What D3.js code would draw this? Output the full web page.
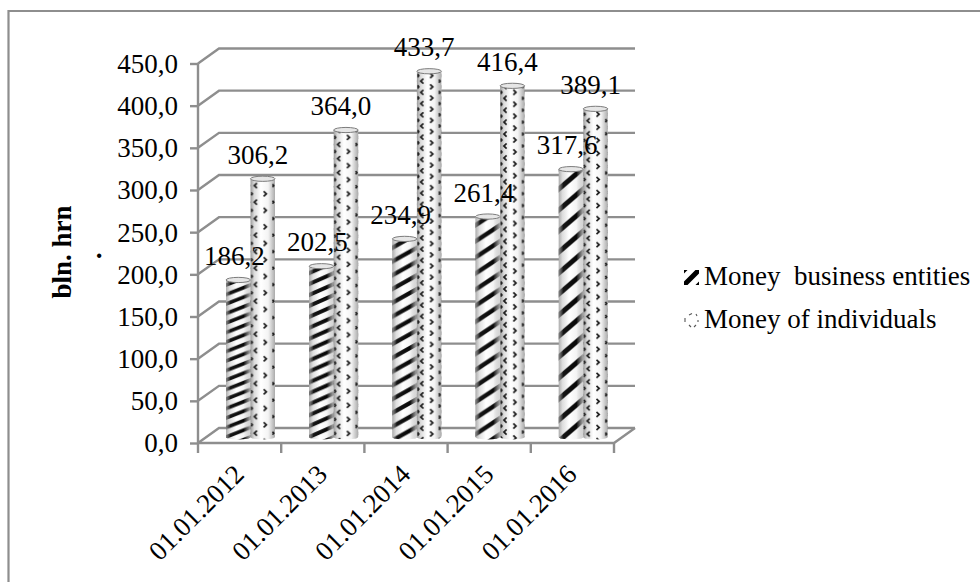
<!DOCTYPE html>
<html>
<head>
<meta charset="utf-8">
<style>
html,body{margin:0;padding:0;background:#fff;}
svg{display:block;}
text{font-family:"Liberation Serif",serif;fill:#000;white-space:pre;}
</style>
<script src="https://cdn.jsdelivr.net/npm/d3@7/dist/d3.min.js"></script>
</head>
<body>
<svg id="chart" width="980" height="582"></svg>
<script>
// Chart data
const dates = ["01.01.2012","01.01.2013","01.01.2014","01.01.2015","01.01.2016"];
const businessMoney = [186.2,202.5,234.9,261.4,317.6];
const individualMoney = [306.2,364.0,433.7,416.4,389.1];
const seriesNames = ["Money  business entities","Money of individuals"];
const valueTicks = [0,50,100,150,200,250,300,350,400,450];
const axisTitle = "bln. hrn";

const comma = v => v.toFixed(1).replace(".", ",");
const svg = d3.select("#chart");
const defs = svg.append("defs");
const textSize = 27, gridColor = "#8e8e8e";

// Cylinder body shading, light in the middle and grey towards the edges
const shade = defs.append("linearGradient").attr("id","shade");
[[0,"#9c9c9c"],[0.16,"#dcdcdc"],[0.42,"#ffffff"],[0.72,"#f4f4f4"],[1,"#ababab"]].forEach(([o,c])=>
  shade.append("stop").attr("offset",o).attr("stop-color",c));

// Veil laid over the hatching so the stripes soften at the cylinder edges
const over = defs.append("linearGradient").attr("id","shadeOver");
[[0,"#b5b5b5",0.7],[0.18,"#ffffff",0.08],[0.72,"#ffffff",0.03],[1,"#e4e4e4",0.75]].forEach(([o,c,a])=>
  over.append("stop").attr("offset",o).attr("stop-color",c).attr("stop-opacity",a));

// The fill textures stretch with the height of each cylinder
const stripeStep = d3.scaleLinear().domain([186.2,317.6]).range([9.5,21]);
const stripeWeight = d3.scaleLinear().domain([186.2,317.6]).range([3.7,5]);
const dotStep = d3.scaleLinear().domain([306.2,433.7]).range([16.5,11.2]);

function hatchPattern(id,x0,w,step,weight){
  const p = defs.append("pattern").attr("id",id).attr("patternUnits","userSpaceOnUse")
    .attr("width",w).attr("height",step).attr("patternTransform",`translate(${x0},0)`);
  p.append("path").attr("d",d3.range(-1,2).map(k=>`M${-w},${step*(2+k)} L${2*w},${step*(k-1)}`).join(" "))
    .attr("stroke","#000").attr("stroke-width",weight).attr("fill","none");
}
function dotPattern(id,x0,w,step){
  const p = defs.append("pattern").attr("id",id).attr("patternUnits","userSpaceOnUse")
    .attr("width",w).attr("height",step).attr("patternTransform",`translate(${x0},0)`);
  const q = step/4, r = 3*step/4;
  p.append("path").attr("d",
      `M6.5,${q-2.5} L3.8,${q} L6.5,${q+2.5} M13.2,${r-2.5} L15.9,${r} L13.2,${r+2.5}`+
      ` M${w-2.5},${q-1.5} L${w-1.2},${q} L${w-2.5},${q+1.5} M0.6,${r-1.5} L1.8,${r} L0.6,${r+1.5}`)
    .attr("stroke","#1c1c1c").attr("stroke-width",1.7).attr("fill","none");
}

// Scales
const frontLeft = 198, frontRight = 614, depthX = 21, depthY = 15;
const y = d3.scaleLinear().domain([0,450]).range([443,63.5]);
const x = d3.scaleBand().domain(dates).range([frontLeft,frontRight]);
const inner = d3.scaleBand().domain([0,1]).range([28,77]);

// Outer frame
svg.append("path").attr("d","M8.5,582 V11 H980")
  .attr("fill","none").attr("stroke",gridColor).attr("stroke-width",2.2);

const grid = svg.append("g").attr("fill","none").attr("stroke",gridColor).attr("stroke-width",2.4);

// Gridlines on the back wall and the side wall
valueTicks.forEach(t=>{
  grid.append("path").attr("d",`M${frontLeft},${y(t)} L${frontLeft+depthX},${y(t)-depthY} H${frontRight+depthX}`);
});
// Floor front edge and right edge
grid.append("path").attr("d",`M${frontLeft},${y(0)} H${frontRight} L${frontRight+depthX},${y(0)-depthY}`);

// Value axis
const yAxis = d3.axisLeft(y).tickValues(valueTicks).tickFormat(comma).tickSize(8).tickPadding(12);
const yg = svg.append("g").attr("transform",`translate(${frontLeft},0)`).call(yAxis);
yg.selectAll("path,line").attr("stroke",gridColor).attr("stroke-width",2.4);
yg.select(".domain").attr("d",`M0,${y(450)}V${y(0)}`);
yg.selectAll("text").attr("font-size",textSize).attr("font-family","Liberation Serif").attr("dy","0.33em");

// Category axis, labels turned 45 degrees
const xAxis = d3.axisBottom(x).tickSize(0).tickFormat(d=>d);
const xg = svg.append("g").attr("transform",`translate(0,${y(0)})`).call(xAxis);
xg.select(".domain").remove();
xg.selectAll("text").attr("font-size",textSize).attr("font-family","Liberation Serif")
  .attr("text-anchor","end").attr("dy",0).attr("y",0)
  .attr("transform",`translate(6,33) rotate(-45)`);
const edges = dates.map(d=>x(d)).concat([frontRight]);
svg.append("g").selectAll("line").data(edges).join("line")
  .attr("x1",d=>d).attr("x2",d=>d).attr("y1",y(0)).attr("y2",y(0)+10)
  .attr("stroke",gridColor).attr("stroke-width",2.4);

// One cylinder: body with fill texture over shading, and an elliptical cap
const baseOffset = 6, ry = 2.6;
function cylinder(g,x0,w,v,pattern,veil){
  const top = y(v)-baseOffset, bottom = y(0)-baseOffset;
  const d = `M${x0},${top} V${bottom} A${w/2},${ry} 0 0 0 ${x0+w},${bottom} V${top} Z`;
  g.append("path").attr("d",d).attr("fill","url(#shade)");
  g.append("path").attr("d",d).attr("fill",`url(#${pattern})`);
  if(veil) g.append("path").attr("d",d).attr("fill","url(#shadeOver)");
  g.append("ellipse").attr("cx",x0+w/2).attr("cy",top).attr("rx",w/2).attr("ry",ry)
    .attr("fill","#e6e6e6").attr("stroke","#7c7c7c").attr("stroke-width",1);
}

const bars = svg.append("g");
dates.forEach((d,i)=>{
  const w = inner.bandwidth();
  const x0 = x(d)+inner(0), x1 = x(d)+inner(1);
  hatchPattern(`hatch${i}`,x0,w,stripeStep(businessMoney[i]),stripeWeight(businessMoney[i]));
  dotPattern(`dots${i}`,x1,w,dotStep(individualMoney[i]));
  cylinder(bars,x0,w,businessMoney[i],`hatch${i}`,true);
  cylinder(bars,x1,w,individualMoney[i],`dots${i}`,false);
});

// Value labels
const labels = svg.append("g").attr("font-size",textSize).attr("text-anchor","middle");
dates.forEach((d,i)=>{
  const w = inner.bandwidth();
  labels.append("text").attr("x",x(d)+inner(0)+w/2-4).attr("y",y(businessMoney[i])-21).text(comma(businessMoney[i]));
  labels.append("text").attr("x",x(d)+inner(1)+w/2-5).attr("y",y(individualMoney[i])-21).text(comma(individualMoney[i]));
});

// Value axis title
svg.append("text").attr("transform","translate(71,298.5) rotate(-90)")
  .attr("font-size",textSize).attr("font-weight","bold").text(axisTitle);
svg.append("text").attr("x",99).attr("y",258).attr("text-anchor","middle")
  .attr("font-size",textSize).attr("font-weight","bold").text(".");

// Legend
hatchPattern("legendHatch",684,15,15,5);
const legendDots = defs.append("pattern").attr("id","legendDots").attr("patternUnits","userSpaceOnUse")
  .attr("width",15).attr("height",15).attr("patternTransform","translate(684,313)");
legendDots.append("path").attr("d","M1,5 V9 M5,2 L8,0.5 M12,1 L13,3 M14,7 V9 M5,12 L7,14 M12,12 L10,14")
  .attr("stroke","#555").attr("stroke-width",1.1).attr("fill","none");

const legend = svg.append("g");
seriesNames.forEach((n,i)=>{
  const ly = 285+i*43;
  legend.append("rect").attr("x",684).attr("y",ly-15).attr("width",15).attr("height",15)
    .attr("fill",i?"url(#legendDots)":"url(#legendHatch)");
  legend.append("text").attr("x",704).attr("y",ly).attr("font-size",textSize).text(n);
});
</script>
</body>
</html>
